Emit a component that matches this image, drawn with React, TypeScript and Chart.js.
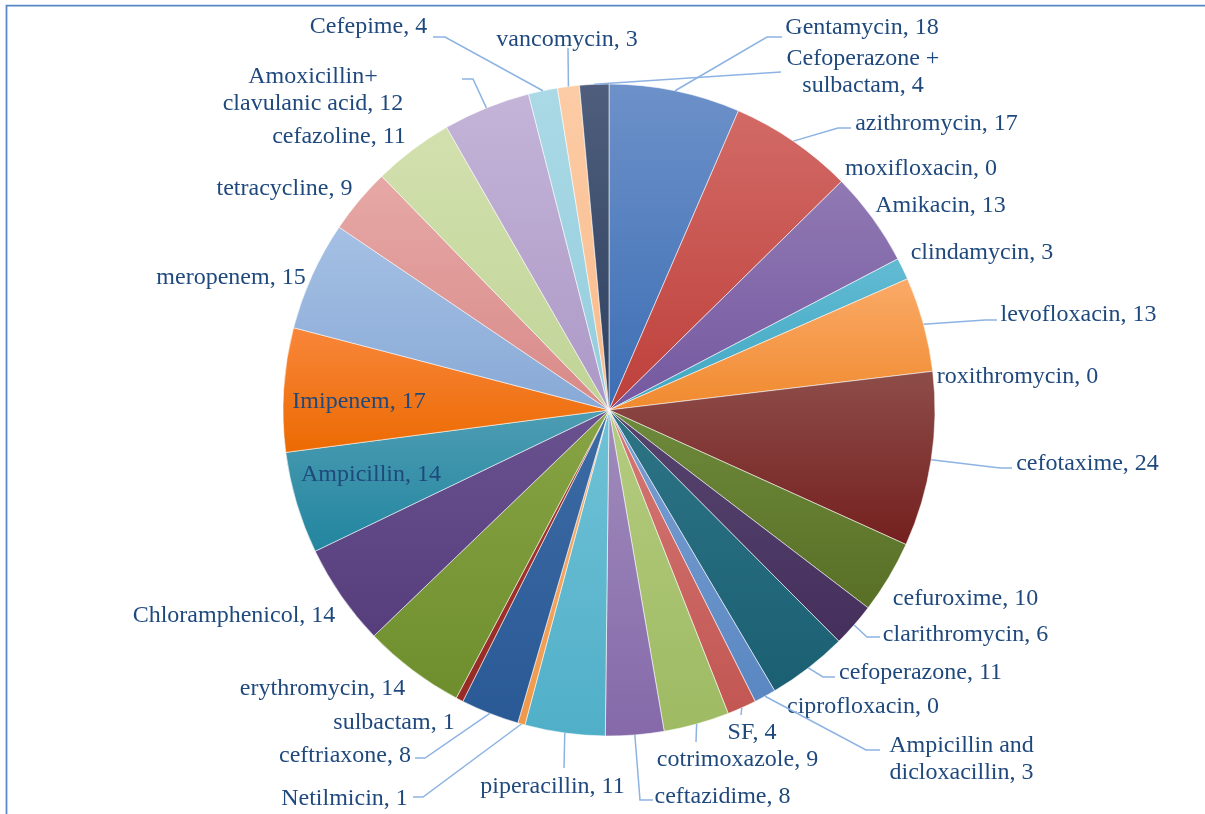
import React, { useEffect, useRef } from "react";
import { Chart, registerables } from "chart.js";

Chart.register(...registerables);

// Antibiotics, clockwise from 12 o'clock. "\n" marks where a label wraps.
const drugNames: string[] = [
  "Gentamycin",
  "azithromycin",
  "moxifloxacin",
  "Amikacin",
  "clindamycin",
  "levofloxacin",
  "roxithromycin",
  "cefotaxime",
  "cefuroxime",
  "clarithromycin",
  "cefoperazone",
  "ciprofloxacin",
  "Ampicillin and\ndicloxacillin",
  "SF",
  "cotrimoxazole",
  "ceftazidime",
  "piperacillin",
  "Netilmicin",
  "ceftriaxone",
  "sulbactam",
  "erythromycin",
  "Chloramphenicol",
  "Ampicillin",
  "Imipenem",
  "meropenem",
  "tetracycline",
  "cefazoline",
  "Amoxicillin+\nclavulanic acid",
  "Cefepime",
  "vancomycin",
  "Cefoperazone +\nsulbactam",
];

const counts: number[] = [
  18, 17, 0, 13, 3, 13, 0, 24, 10, 6, 11, 0, 3, 4, 9, 8, 11, 1, 8, 1, 14, 14,
  14, 17, 15, 9, 11, 12, 4, 3, 4,
];

// Top / bottom shade of each slice's vertical gradient.
const SLICE_SHADES: [string, string][] = [
  ["#6D91C9", "#3C6EB4"],
  ["#D26A66", "#BE3F3A"],
  ["#A9C46E", "#8AAE45"],
  ["#9079B3", "#7558A0"],
  ["#62BBD3", "#3FA6C2"],
  ["#FAAA68", "#F08A2E"],
  ["#3E6391", "#2A4C76"],
  ["#8E4D4A", "#74201E"],
  ["#6E8A3C", "#586F25"],
  ["#56456F", "#452F5C"],
  ["#2E7487", "#1A6072"],
  ["#C86A1F", "#AE5105"],
  ["#7BA0D2", "#5A87C2"],
  ["#D47976", "#C25652"],
  ["#B4CC80", "#9EBA62"],
  ["#A08CBC", "#8569A9"],
  ["#70C2D6", "#50AFC8"],
  ["#F8B274", "#F0984A"],
  ["#3C6AA4", "#2A5A96"],
  ["#A83A34", "#962A24"],
  ["#88A444", "#6E8E2E"],
  ["#6A5290", "#563E7C"],
  ["#4D9DB3", "#22859F"],
  ["#F8863A", "#EC6A02"],
  ["#A5C0E4", "#88A9D6"],
  ["#E6A8A6", "#D88A88"],
  ["#D2E0AE", "#C0D496"],
  ["#C4B4D8", "#AC98C6"],
  ["#ABD9E6", "#93CDDD"],
  ["#FCCCA6", "#F9BB8A"],
  ["#4E5E7C", "#2E4060"],
];

// Label placement relative to the pie centre (px); optional leader bends/end.
type Spot = { dx: number; dy: number; leader?: [number, number][] };
const LABEL_SPOTS: Spot[] = [
  { dx: 253, dy: -384, leader: [[158, -373], [173, -373]] },
  { dx: 327.5, dy: -288, leader: [[229, -282], [242, -282]] },
  { dx: 312, dy: -243 },
  { dx: 331.5, dy: -206 },
  { dx: 373, dy: -159 },
  { dx: 469.5, dy: -97, leader: [[376, -90], [388, -90]] },
  { dx: 408.5, dy: -35 },
  { dx: 478.5, dy: 52, leader: [[391, 58], [403, 58]] },
  { dx: 356.5, dy: 187 },
  { dx: 356.5, dy: 223, leader: [[258, 227], [271, 227]] },
  { dx: 311.5, dy: 261, leader: [[214, 267], [226, 267]] },
  { dx: 254, dy: 295 },
  { dx: 352.5, dy: 347.5, leader: [[257, 340], [271, 340]] },
  { dx: 143, dy: 321, leader: [[132, 305]] },
  { dx: 128.5, dy: 348, leader: [[87, 332]] },
  { dx: 113.5, dy: 385, leader: [[31, 390], [44, 390]] },
  { dx: -56.5, dy: 375, leader: [[-45, 358]] },
  { dx: -264.5, dy: 387, leader: [[-186, 387], [-196, 387]] },
  { dx: -264, dy: 344, leader: [[-184, 348], [-194, 348]] },
  { dx: -215, dy: 311 },
  { dx: -286.5, dy: 277 },
  { dx: -375, dy: 204 },
  { dx: -238, dy: 63 },
  { dx: -250, dy: -10 },
  { dx: -378, dy: -134 },
  { dx: -324.5, dy: -223 },
  { dx: -270, dy: -275 },
  { dx: -296, dy: -321.5, leader: [[-136, -331], [-147, -331]] },
  { dx: -240.5, dy: -385, leader: [[-164, -373], [-176, -373]] },
  { dx: -42, dy: -372, leader: [[-41, -362]] },
  { dx: 254, dy: -339.5, leader: [[172, -338]] },
];

const LABEL_FONT = '24px "Liberation Serif", "Times New Roman", serif';
const LABEL_COLOR = "#1F497D";
const LEADER_COLOR = "#8DB3E2";
const LINE_HEIGHT = 27;
const TEXT_NUDGE = 2; // canvas "middle" sits a touch high for this face

// Vertical gradient spanning the bounding box of each slice.
function sliceFill(ctx: any) {
  const i: number = ctx.dataIndex;
  const shades = SLICE_SHADES[i] || ["#888", "#666"];
  const chart = ctx.chart;
  const area = chart.chartArea;
  if (!area || i === undefined) return shades[1];
  const cx = (area.left + area.right) / 2;
  const cy = (area.top + area.bottom) / 2;
  const r = Math.min(area.width, area.height) / 2;
  const total = counts.reduce((s, v) => s + v, 0);
  let before = 0;
  for (let j = 0; j < i; j++) before += counts[j];
  const a0 = -Math.PI / 2 + (before / total) * Math.PI * 2;
  const a1 = a0 + (counts[i] / total) * Math.PI * 2;
  let top = Math.min(cy, cy + r * Math.sin(a0), cy + r * Math.sin(a1));
  let bottom = Math.max(cy, cy + r * Math.sin(a0), cy + r * Math.sin(a1));
  if (a0 <= Math.PI / 2 && a1 >= Math.PI / 2) bottom = cy + r;
  if (a0 <= -Math.PI / 2 + 1e-9 || a1 >= (3 * Math.PI) / 2 - 1e-9) top = cy - r;
  if (bottom - top < 1) bottom = top + 1;
  const g = chart.ctx.createLinearGradient(0, top, 0, bottom);
  g.addColorStop(0, shades[0]);
  g.addColorStop(1, shades[1]);
  return g;
}

const framePlugin = {
  id: "frame",
  beforeDraw(chart: any) {
    const c = chart.ctx;
    c.save();
    c.fillStyle = "#ffffff";
    c.fillRect(0, 0, chart.width, chart.height);
    c.strokeStyle = "#5B86C6";
    c.lineWidth = 1.75;
    c.beginPath();
    c.moveTo(6.5, chart.height + 2);
    c.lineTo(6.5, 5.5);
    c.lineTo(chart.width + 2, 5.5);
    c.stroke();
    c.restore();
  },
};

const labelPlugin = {
  id: "sliceLabels",
  afterDatasetsDraw(chart: any) {
    const meta = chart.getDatasetMeta(0);
    const c = chart.ctx;
    c.save();
    meta.data.forEach((arc: any, i: number) => {
      const spot = LABEL_SPOTS[i];
      if (!spot) return;
      const p = arc.getProps(["x", "y", "startAngle", "endAngle", "outerRadius"], true);
      const mid = (p.startAngle + p.endAngle) / 2;
      if (spot.leader) {
        c.strokeStyle = LEADER_COLOR;
        c.lineWidth = 1.5;
        c.beginPath();
        c.moveTo(p.x + p.outerRadius * Math.cos(mid), p.y + p.outerRadius * Math.sin(mid));
        spot.leader.forEach(([lx, ly]) => c.lineTo(p.x + lx, p.y + ly));
        c.stroke();
      }
      const lines = `${drugNames[i]}, ${counts[i]}`.split("\n");
      c.font = LABEL_FONT;
      c.fillStyle = LABEL_COLOR;
      c.textAlign = "center";
      c.textBaseline = "middle";
      const y0 = p.y + spot.dy + TEXT_NUDGE - ((lines.length - 1) * LINE_HEIGHT) / 2;
      lines.forEach((ln, k) => c.fillText(ln, p.x + spot.dx, y0 + k * LINE_HEIGHT));
    });
    c.restore();
  },
};

export default function App() {
  const canvasRef = useRef<HTMLCanvasElement | null>(null);

  useEffect(() => {
    const canvas = canvasRef.current;
    if (!canvas) return;
    const chart = new Chart(canvas, {
      type: "pie",
      data: {
        labels: drugNames.map((n) => n.replace("\n", " ")),
        datasets: [
          {
            data: counts,
            backgroundColor: sliceFill as any,
            borderColor: "rgba(255,255,255,0.55)",
            borderWidth: 1,
          },
        ],
      },
      options: {
        responsive: false,
        maintainAspectRatio: false,
        animation: false,
        events: [],
        layout: { padding: { left: 282.5, right: 269.5, top: 83.5, bottom: 77.5 } },
        plugins: {
          legend: { display: false },
          tooltip: { enabled: false },
        },
      },
      plugins: [framePlugin, labelPlugin],
    });
    return () => chart.destroy();
  }, []);

  return (
    <div
      style={{
        position: "absolute",
        left: 0,
        top: 0,
        width: 1205,
        height: 814,
        overflow: "hidden",
        background: "#fff",
      }}
    >
      <canvas ref={canvasRef} width={1205} height={814} style={{ display: "block" }} />
    </div>
  );
}
